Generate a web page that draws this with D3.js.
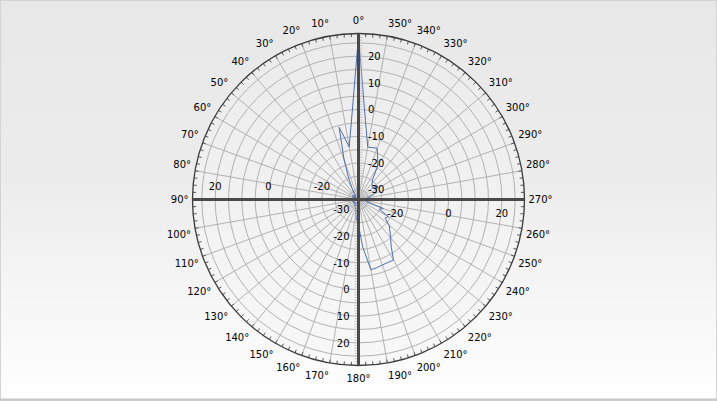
<!DOCTYPE html>
<html><head><meta charset="utf-8">
<script src="https://cdn.jsdelivr.net/npm/d3@7"></script>
<style>
html,body{margin:0;padding:0;background:#fff;}
svg{display:block;}
text{font-family:"DejaVu Sans",Verdana,sans-serif;font-size:10px;fill:#000;}
</style>
</head><body>
<svg id="c" width="717" height="401"></svg>
<script>
// ---- data ----
const angles = [0,5,10,15,20,25,30,35,40,45,50,55,60,65,70,75,80,85,90,95,100,105,110,115,120,125,130,135,140,145,150,155,160,165,170,175,180,185,190,195,200,205,210,215,220,225,230,235,240,245,250,255,260,265,270,275,280,285,290,295,300,305,310,315,320,325,330,335,340,345,350,355];
const values = [27.5,-3.8,-13.7,-5.7,-18,-25,-29,-31,-32,-31.5,-32.5,-32,-31,-32,-32.5,-31.5,-32,-32.5,-31,-32,-32.5,-31.5,-32,-32.5,-31.5,-32,-32.5,-31.5,-32,-31,-32,-31.5,-30.5,-30,-28,-26,-24,-16,-7,-7.3,-7.6,-7.7,-7.5,-12.4,-15,-17.1,-18.75,-21.6,-20.85,-25.1,-23.85,-30,-31,-30,-23.4,-31,-30.5,-29,-27.5,-26.5,-26,-25,-27,-26.5,-25.8,-24.5,-19.4,-16.7,-13.3,-13.6,-13.8,-4];
const gridCircles = [-30,-25,-20,-15,-10,-5,0,5,10,15,20,25];
const vertLabels = [-30,-20,-10,0,10,20];
const horizLabels = [-20,0,20];
const angleLabels = [0,10,20,30,40,50,60,70,80,90,100,110,120,130,140,150,160,170,180,190,200,210,220,230,240,250,260,270,280,290,300,310,320,330,340,350];
const radialDomain = [-33.75, 28.5];

// ---- layout ----
const W = 717, H = 401;
const cx = 358.5, cy = 199.5, R = 166;
const svg = d3.select("#c");
const defs = svg.append("defs");
const bg = defs.append("linearGradient").attr("id","bg").attr("x1",0).attr("y1",0).attr("x2",0).attr("y2",1);
bg.append("stop").attr("offset","0%").attr("stop-color","#e8e8e8");
bg.append("stop").attr("offset","45%").attr("stop-color","#ececec");
bg.append("stop").attr("offset","100%").attr("stop-color","#ffffff");
const pg = defs.append("linearGradient").attr("id","pg").attr("x1",0).attr("y1",0).attr("x2",0).attr("y2",1);
pg.append("stop").attr("offset","0%").attr("stop-color","#ebebeb");
pg.append("stop").attr("offset","100%").attr("stop-color","#f8f8f8");

svg.append("rect").attr("x",0).attr("y",0).attr("width",W).attr("height",H).attr("fill","url(#bg)");
svg.append("rect").attr("x",0.5).attr("y",0.5).attr("width",W-1).attr("height",H-1)
  .attr("fill","none").attr("stroke","#d4d4d4");
svg.append("line").attr("x1",0).attr("x2",W).attr("y1",399.5).attr("y2",399.5).attr("stroke","#c8c8c8").attr("stroke-width",2);

const r = d3.scaleLinear().domain(radialDomain).range([0, R]);
const toRad = d => d * Math.PI / 180;
const pt = (deg, rr) => [cx - rr * Math.sin(toRad(deg)), cy - rr * Math.cos(toRad(deg))];

const g = svg.append("g");
g.append("circle").attr("cx",cx).attr("cy",cy).attr("r",R).attr("fill","url(#pg)");

// grid circles
g.selectAll("circle.grid").data(gridCircles).join("circle").attr("class","grid")
  .attr("cx",cx).attr("cy",cy).attr("r",d=>r(d))
  .attr("fill","none").attr("stroke","#b2b2b2").attr("stroke-width",1);

// spokes
g.selectAll("line.spoke").data(angleLabels.filter(a=>a%90!==0)).join("line").attr("class","spoke")
  .attr("x1",cx).attr("y1",cy)
  .attr("x2",d=>pt(d,R)[0]).attr("y2",d=>pt(d,R)[1])
  .attr("stroke","#b2b2b2").attr("stroke-width",1);

// outer minor ticks every 2.5 deg
g.selectAll("line.otick").data(d3.range(0,360,2.5)).join("line").attr("class","otick")
  .attr("x1",d=>pt(d,R)[0]).attr("y1",d=>pt(d,R)[1])
  .attr("x2",d=>pt(d,R-3.5)[0]).attr("y2",d=>pt(d,R-3.5)[1])
  .attr("stroke","#555").attr("stroke-width",1);

// outer circle
g.append("circle").attr("cx",cx).attr("cy",cy).attr("r",R)
  .attr("fill","none").attr("stroke","#3a3a3a").attr("stroke-width",1.3);

// data line
const line = d3.lineRadial()
  .angle((d,i)=>-toRad(angles[i]))
  .radius(d=>r(d))
  .curve(d3.curveLinearClosed);
g.append("path").datum(values)
  .attr("transform",`translate(${cx},${cy})`)
  .attr("d",line)
  .attr("fill","none").attr("stroke","#4a6fb5").attr("stroke-width",1);

// thick axes
g.append("line").attr("x1",cx).attr("x2",cx).attr("y1",cy-R).attr("y2",cy+R).attr("stroke","#4a4a4a").attr("stroke-width",3);
g.append("line").attr("x1",cx-R).attr("x2",cx+R).attr("y1",cy).attr("y2",cy).attr("stroke","#4a4a4a").attr("stroke-width",3);

// minor axis ticks (1 unit)
const minor = d3.range(Math.ceil(radialDomain[0]), Math.floor(radialDomain[1])+1);
g.selectAll("line.vt").data(minor).join("line").attr("class","vt")
  .attr("x1",cx+1.5).attr("x2",cx+4).attr("y1",d=>cy-r(d)).attr("y2",d=>cy-r(d)).attr("stroke","#c4c4c4");
g.selectAll("line.vb").data(minor).join("line").attr("class","vb")
  .attr("x1",cx-1.5).attr("x2",cx-4).attr("y1",d=>cy+r(d)).attr("y2",d=>cy+r(d)).attr("stroke","#c4c4c4");

// radial labels
g.selectAll("text.up").data(vertLabels).join("text").attr("class","up")
  .attr("x",cx+9.5).attr("y",d=>cy-r(d)+3.7).attr("text-anchor","start").text(d=>d);
g.selectAll("text.dn").data(vertLabels).join("text").attr("class","dn")
  .attr("x",cx-9).attr("y",d=>cy+r(d)+3.7).attr("text-anchor","end").text(d=>d);
g.selectAll("text.lf").data(horizLabels).join("text").attr("class","lf")
  .attr("x",d=>cx-r(d)).attr("y",cy-10).attr("text-anchor","middle").text(d=>d);
g.selectAll("text.rt").data(horizLabels).join("text").attr("class","rt")
  .attr("x",d=>cx+r(d)).attr("y",cy+17.5).attr("text-anchor","middle").text(d=>d);

// angle labels
g.selectAll("text.ang").data(angleLabels).join("text").attr("class","ang")
  .each(function(a){
    const dx = -Math.sin(toRad(a)), dy = -Math.cos(toRad(a));
    const px = cx + dx*(R+4), py = cy + dy*(R+8);
    let anchor = "middle";
    if (dx < -0.01) anchor = "end"; else if (dx > 0.01) anchor = "start";
    let by;
    if (dy < -0.01) by = py - 1.5; else if (dy > 0.01) by = py + 8.3; else by = cy + 3.7;
    d3.select(this).attr("x",px).attr("y",by).attr("text-anchor",anchor).text(a+"°");
  });
</script>
</body></html>
